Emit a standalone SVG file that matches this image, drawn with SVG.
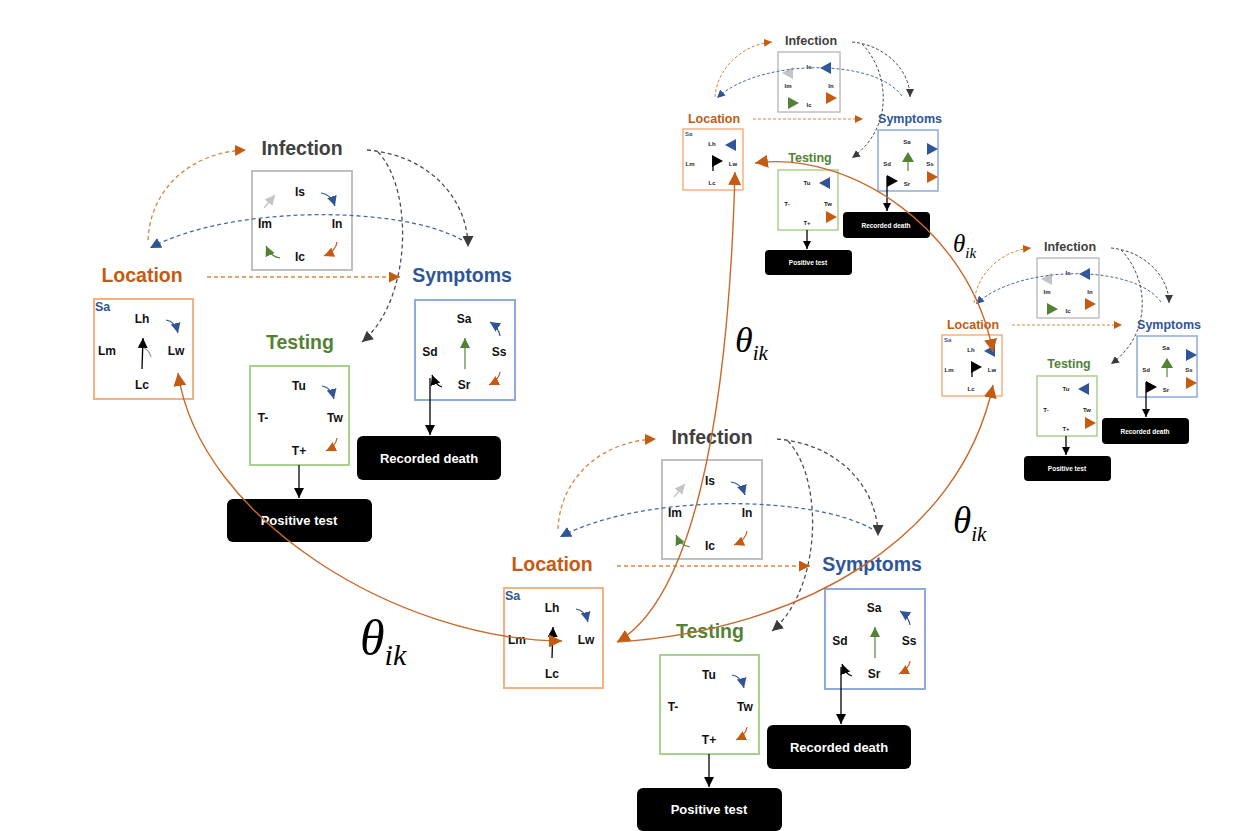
<svg xmlns="http://www.w3.org/2000/svg" width="1253" height="831" viewBox="0 0 1253 831">
<style>
text{font-family:"Liberation Sans",Arial,sans-serif;font-weight:bold;text-anchor:middle}
.ti{font-size:19.5px;fill:#404040}.tl{font-size:19.5px;fill:#c55a11}.ts{font-size:19.5px;fill:#2f5597}.tt{font-size:19.5px;fill:#548235}
.lb{font-size:12px;fill:#111}.sa{font-size:12.5px;fill:#2f5597;text-anchor:start}
.bw{font-size:13px;fill:#fff}
.sti{font-size:12.5px;fill:#404040}.stl{font-size:12.5px;fill:#c55a11}.sts{font-size:12.5px;fill:#2f5597}.stt{font-size:12.5px;fill:#548235}
.slb{font-size:6px;fill:#222}.ssa{font-size:6px;fill:#2f5597;text-anchor:start}.sbw{font-size:6.5px;fill:#fff}
.bi{fill:#fff;stroke:#bfbfbf;stroke-width:2}.bl{fill:#fff;stroke:#f4b183;stroke-width:2}.bs{fill:#fff;stroke:#8faadc;stroke-width:2}.bt{fill:#fff;stroke:#a9d18e;stroke-width:2}
.sbi{fill:#fff;stroke:#bfbfbf;stroke-width:1.5}.sbl{fill:#fff;stroke:#f4b183;stroke-width:1.5}.sbs{fill:#fff;stroke:#8faadc;stroke-width:1.5}.sbt{fill:#fff;stroke:#a9d18e;stroke-width:1.5}
.blk{fill:#000}
.ic{fill:none;stroke-width:1.2}
.d{fill:none;stroke-width:1.3;stroke-dasharray:4 3}
.dor{stroke:#d9853f}.dbl{stroke:#4a6a9f}.dgy{stroke:#4d4d4d}
.sd{fill:none;stroke-width:1;stroke-dasharray:3 2}
.ln{fill:none;stroke:#000;stroke-width:1.3}
.th{fill:none;stroke:#c8692a;stroke-width:1.4}
.theta{font-family:"Liberation Serif","Times New Roman",serif;font-style:italic;font-weight:normal;fill:#000;text-anchor:start}
</style>
<defs>
<marker id="mOr" viewBox="0 0 10 10" refX="10" refY="5" markerWidth="11" markerHeight="11" markerUnits="userSpaceOnUse" orient="auto-start-reverse"><path d="M0,0 L10,5 L0,10 z" fill="#c55a11"/></marker>
<marker id="mBl" viewBox="0 0 10 10" refX="10" refY="5" markerWidth="11" markerHeight="11" markerUnits="userSpaceOnUse" orient="auto"><path d="M0,0 L10,5 L0,10 z" fill="#2f5597"/></marker>
<marker id="mGy" viewBox="0 0 10 10" refX="10" refY="5" markerWidth="11" markerHeight="11" markerUnits="userSpaceOnUse" orient="auto"><path d="M0,0 L10,5 L0,10 z" fill="#3a3a3a"/></marker>
<marker id="mBk" viewBox="0 0 10 10" refX="10" refY="5" markerWidth="10" markerHeight="10" markerUnits="userSpaceOnUse" orient="auto"><path d="M0,0 L10,5 L0,10 z" fill="#000"/></marker>
<marker id="mGr" viewBox="0 0 10 10" refX="10" refY="5" markerWidth="10" markerHeight="10" markerUnits="userSpaceOnUse" orient="auto"><path d="M0,0 L10,5 L0,10 z" fill="#548235"/></marker>
<marker id="mLg" viewBox="0 0 10 10" refX="10" refY="5" markerWidth="10" markerHeight="10" markerUnits="userSpaceOnUse" orient="auto"><path d="M0,0 L10,5 L0,10 z" fill="#c4c4c4"/></marker>
<marker id="iBl" viewBox="0 0 10 10" refX="10" refY="5" markerWidth="10" markerHeight="10" markerUnits="userSpaceOnUse" orient="auto"><path d="M0,0 L10,5 L0,10 z" fill="#2f5597"/></marker>
<marker id="iOr" viewBox="0 0 10 10" refX="10" refY="5" markerWidth="10" markerHeight="10" markerUnits="userSpaceOnUse" orient="auto"><path d="M0,0 L10,5 L0,10 z" fill="#c55a11"/></marker>
<marker id="tOr" viewBox="0 0 10 10" refX="10" refY="5" markerWidth="13" markerHeight="13" markerUnits="userSpaceOnUse" orient="auto-start-reverse"><path d="M0,0 L10,5 L0,10 z" fill="#c55a11"/></marker>
<marker id="sOr" viewBox="0 0 10 10" refX="10" refY="5" markerWidth="8" markerHeight="8" markerUnits="userSpaceOnUse" orient="auto"><path d="M0,0 L10,5 L0,10 z" fill="#c55a11"/></marker>
<marker id="sBl" viewBox="0 0 10 10" refX="10" refY="5" markerWidth="8" markerHeight="8" markerUnits="userSpaceOnUse" orient="auto"><path d="M0,0 L10,5 L0,10 z" fill="#2f5597"/></marker>
<marker id="sGy" viewBox="0 0 10 10" refX="10" refY="5" markerWidth="8" markerHeight="8" markerUnits="userSpaceOnUse" orient="auto"><path d="M0,0 L10,5 L0,10 z" fill="#3a3a3a"/></marker>
<marker id="sBk" viewBox="0 0 10 10" refX="10" refY="5" markerWidth="8" markerHeight="8" markerUnits="userSpaceOnUse" orient="auto"><path d="M0,0 L10,5 L0,10 z" fill="#000"/></marker>
</defs>
<rect width="1253" height="831" fill="#fff"/>

<!-- Cluster 1 (left, large) -->
<g id="cluster1">
 <g id="c1-infection">
  <text class="ti" x="302" y="155">Infection</text>
  <rect class="bi" x="252" y="171" width="100" height="99"/>
  <text class="lb" x="300" y="196">Is</text>
  <text class="lb" x="265" y="228">Im</text>
  <text class="lb" x="337" y="228">In</text>
  <text class="lb" x="300" y="261">Ic</text>
  <path class="ic" stroke="#c4c4c4" marker-end="url(#mLg)" d="M264,208 L275,195"/>
  <path class="ic" stroke="#2f5597" marker-end="url(#iBl)" d="M321,193 Q331,194 335,206"/>
  <path class="ic" stroke="#548235" marker-end="url(#mGr)" d="M280,258 Q271,257 266,246"/>
  <path class="ic" stroke="#c55a11" marker-end="url(#iOr)" d="M337,242 Q336,251 324,256"/>
 </g>
 <g id="c1-location">
  <text class="tl" x="142" y="282">Location</text>
  <rect class="bl" x="94" y="299" width="99" height="100"/>
  <text class="sa" x="95" y="311">Sa</text>
  <text class="lb" x="142" y="323">Lh</text>
  <text class="lb" x="107" y="355">Lm</text>
  <text class="lb" x="176" y="355">Lw</text>
  <text class="lb" x="142" y="389">Lc</text>
  <path class="ln" marker-end="url(#mBk)" d="M142,369 L143,338"/>
  <path class="ic" stroke="#999" d="M151,357 Q149,350 144,348"/>
  <path class="ic" stroke="#2f5597" marker-end="url(#iBl)" d="M166,320 Q175,321 178,333"/>
 </g>
 <g id="c1-symptoms">
  <text class="ts" x="462" y="282">Symptoms</text>
  <rect class="bs" x="415" y="300" width="100" height="100"/>
  <text class="lb" x="464" y="323">Sa</text>
  <text class="lb" x="430" y="356">Sd</text>
  <text class="lb" x="499" y="356">Ss</text>
  <text class="lb" x="464" y="389">Sr</text>
  <path class="ic" stroke="#548235" marker-end="url(#mGr)" d="M465,369 L465,338"/>
  <path class="ic" stroke="#2f5597" marker-end="url(#iBl)" d="M500,336 Q499,328 490,322"/>
  <path class="ic" stroke="#c55a11" marker-end="url(#iOr)" d="M500,372 Q499,380 489,385"/>
  <path class="ic" stroke="#000" marker-end="url(#mBk)" d="M442,387 Q436,386 432,375"/>
 </g>
 <g id="c1-testing">
  <text class="tt" x="300" y="349">Testing</text>
  <rect class="bt" x="250" y="366" width="99" height="99"/>
  <text class="lb" x="299" y="390">Tu</text>
  <text class="lb" x="263" y="422">T-</text>
  <text class="lb" x="335" y="422">Tw</text>
  <text class="lb" x="299" y="455">T+</text>
  <path class="ic" stroke="#2f5597" marker-end="url(#iBl)" d="M322,386 Q331,387 334,399"/>
  <path class="ic" stroke="#c55a11" marker-end="url(#iOr)" d="M337,438 Q336,446 326,451"/>
 </g>
 <g id="c1-positive">
  <rect class="blk" x="227" y="499" width="145" height="43" rx="6"/>
  <text class="bw" x="299" y="525">Positive test</text>
 </g>
 <g id="c1-death">
  <rect class="blk" x="357" y="436" width="144" height="44" rx="6"/>
  <text class="bw" x="429" y="463">Recorded death</text>
 </g>
 <g id="c1-connectors">
  <path class="ln" marker-end="url(#mBk)" d="M299,465 L299,498"/>
  <path class="ln" marker-end="url(#mBk)" d="M430,378 L430,435"/>
  <path class="d dor" marker-end="url(#mOr)" d="M148,240 C150,190 190,152 246,150"/>
  <path class="d dbl" marker-end="url(#mBl)" d="M462,240 C400,205 230,205 150,248"/>
  <path class="d dgy" marker-end="url(#mGy)" d="M367,150 C430,155 468,200 468,247"/>
  <path class="d dgy" marker-end="url(#mGy)" d="M378,152 C414,190 412,300 362,342"/>
  <path class="d dor" marker-end="url(#mOr)" d="M207,277 L400,277"/>
 </g>
</g>

<!-- Cluster 2 (bottom, large) -->
<g id="cluster2" transform="translate(410,289)">
 <g id="c2-infection">
  <text class="ti" x="302" y="155">Infection</text>
  <rect class="bi" x="252" y="171" width="100" height="99"/>
  <text class="lb" x="300" y="196">Is</text>
  <text class="lb" x="265" y="228">Im</text>
  <text class="lb" x="337" y="228">In</text>
  <text class="lb" x="300" y="261">Ic</text>
  <path class="ic" stroke="#c4c4c4" marker-end="url(#mLg)" d="M264,208 L275,195"/>
  <path class="ic" stroke="#2f5597" marker-end="url(#iBl)" d="M321,193 Q331,194 335,206"/>
  <path class="ic" stroke="#548235" marker-end="url(#mGr)" d="M280,258 Q271,257 266,246"/>
  <path class="ic" stroke="#c55a11" marker-end="url(#iOr)" d="M337,242 Q336,251 324,256"/>
 </g>
 <g id="c2-location">
  <text class="tl" x="142" y="282">Location</text>
  <rect class="bl" x="94" y="299" width="99" height="100"/>
  <text class="sa" x="95" y="311">Sa</text>
  <text class="lb" x="142" y="323">Lh</text>
  <text class="lb" x="107" y="355">Lm</text>
  <text class="lb" x="176" y="355">Lw</text>
  <text class="lb" x="142" y="389">Lc</text>
  <path class="ln" marker-end="url(#mBk)" d="M142,369 L143,338"/>
  <path class="ic" stroke="#2f5597" marker-end="url(#iBl)" d="M166,320 Q175,321 178,333"/>
 </g>
 <g id="c2-symptoms">
  <text class="ts" x="462" y="282">Symptoms</text>
  <rect class="bs" x="415" y="300" width="100" height="100"/>
  <text class="lb" x="464" y="323">Sa</text>
  <text class="lb" x="430" y="356">Sd</text>
  <text class="lb" x="499" y="356">Ss</text>
  <text class="lb" x="464" y="389">Sr</text>
  <path class="ic" stroke="#548235" marker-end="url(#mGr)" d="M465,369 L465,338"/>
  <path class="ic" stroke="#2f5597" marker-end="url(#iBl)" d="M500,336 Q499,328 490,322"/>
  <path class="ic" stroke="#c55a11" marker-end="url(#iOr)" d="M500,372 Q499,380 489,385"/>
  <path class="ic" stroke="#000" marker-end="url(#mBk)" d="M442,387 Q436,386 432,375"/>
 </g>
 <g id="c2-testing">
  <text class="tt" x="300" y="349">Testing</text>
  <rect class="bt" x="250" y="366" width="99" height="99"/>
  <text class="lb" x="299" y="390">Tu</text>
  <text class="lb" x="263" y="422">T-</text>
  <text class="lb" x="335" y="422">Tw</text>
  <text class="lb" x="299" y="455">T+</text>
  <path class="ic" stroke="#2f5597" marker-end="url(#iBl)" d="M322,386 Q331,387 334,399"/>
  <path class="ic" stroke="#c55a11" marker-end="url(#iOr)" d="M337,438 Q336,446 326,451"/>
 </g>
 <g id="c2-positive">
  <rect class="blk" x="227" y="499" width="145" height="43" rx="6"/>
  <text class="bw" x="299" y="525">Positive test</text>
 </g>
 <g id="c2-death">
  <rect class="blk" x="357" y="436" width="144" height="44" rx="6"/>
  <text class="bw" x="429" y="463">Recorded death</text>
 </g>
 <g id="c2-connectors">
  <path class="ln" marker-end="url(#mBk)" d="M299,465 L299,498"/>
  <path class="ln" marker-end="url(#mBk)" d="M431,378 L431,435"/>
  <path class="d dor" marker-end="url(#mOr)" d="M148,240 C150,190 190,152 246,150"/>
  <path class="d dbl" marker-end="url(#mBl)" d="M462,240 C400,205 230,205 150,248"/>
  <path class="d dgy" marker-end="url(#mGy)" d="M367,150 C430,155 468,200 468,247"/>
  <path class="d dgy" marker-end="url(#mGy)" d="M378,152 C414,190 412,300 362,342"/>
  <path class="d dor" marker-end="url(#mOr)" d="M207,277 L400,277"/>
 </g>
</g>

<!-- Cluster 3 (top right, small) -->
<g id="cluster3">
 <g id="c3-infection">
  <text class="sti" x="811" y="45">Infection</text>
  <rect class="sbi" x="778" y="52" width="62" height="60"/>
  <text class="slb" x="809" y="69">Is</text>
  <text class="slb" x="788" y="88">Im</text>
  <text class="slb" x="831" y="88">In</text>
  <text class="slb" x="809" y="107">Ic</text>
  <polygon points="782,73 793,67 793,79" fill="#c4c4c4"/>
  <polygon points="820,68 831,62 831,74" fill="#2f5597"/>
  <polygon points="788,97 799,103 788,109" fill="#548235"/>
  <polygon points="826,92 837,98 826,104" fill="#c55a11"/>
 </g>
 <g id="c3-location">
  <text class="stl" x="714" y="123">Location</text>
  <rect class="sbl" x="683" y="129" width="60" height="61"/>
  <text class="ssa" x="685" y="136">Sa</text>
  <text class="slb" x="712" y="146">Lh</text>
  <text class="slb" x="690" y="166">Lm</text>
  <text class="slb" x="733" y="166">Lw</text>
  <text class="slb" x="712" y="185">Lc</text>
  <polygon points="725,145 736,139 736,151" fill="#2f5597"/>
  <polygon points="712,155 723,161 712,167" fill="#000"/>
  <path class="ln" stroke-width="1" d="M713,160 L713,171"/>
 </g>
 <g id="c3-symptoms">
  <text class="sts" x="910" y="123">Symptoms</text>
  <rect class="sbs" x="878" y="130" width="60" height="61"/>
  <text class="slb" x="907" y="144">Sa</text>
  <text class="slb" x="887" y="166">Sd</text>
  <text class="slb" x="930" y="166">Ss</text>
  <text class="slb" x="907" y="186">Sr</text>
  <polygon points="927,143 938,149 927,155" fill="#2f5597"/>
  <polygon points="927,171 938,177 927,183" fill="#c55a11"/>
  <polygon points="902,162 908,152 914,162" fill="#548235"/>
  <path fill="none" stroke="#548235" stroke-width="1.2" d="M908,161 L908,171"/>
  <polygon points="887,175 898,181 887,187" fill="#000"/>
 </g>
 <g id="c3-testing">
  <text class="stt" x="810" y="162">Testing</text>
  <rect class="sbt" x="778" y="170" width="60" height="60"/>
  <text class="slb" x="807" y="185">Tu</text>
  <text class="slb" x="787" y="206">T-</text>
  <text class="slb" x="828" y="206">Tw</text>
  <text class="slb" x="807" y="225">T+</text>
  <polygon points="819,183 830,177 830,189" fill="#2f5597"/>
  <polygon points="826,211 837,217 826,223" fill="#c55a11"/>
 </g>
 <g id="c3-positive">
  <rect class="blk" x="765" y="250" width="87" height="25" rx="4"/>
  <text class="sbw" x="808" y="265">Positive test</text>
 </g>
 <g id="c3-death">
  <rect class="blk" x="843" y="212" width="87" height="26" rx="4"/>
  <text class="sbw" x="886" y="228">Recorded death</text>
 </g>
 <g id="c3-connectors">
  <path class="ln" stroke-width="1.1" marker-end="url(#sBk)" d="M807,230 L807,249"/>
  <path class="ln" stroke-width="1.1" marker-end="url(#sBk)" d="M887,176 L887,211"/>
  <path class="sd dor" marker-end="url(#sOr)" d="M715,97 C717,70 740,45 772,42"/>
  <path class="sd dbl" marker-end="url(#sBl)" d="M902,96 C875,58 760,58 717,98"/>
  <path class="sd dgy" marker-end="url(#sGy)" d="M852,42 C885,45 910,70 910,97"/>
  <path class="sd dgy" marker-end="url(#sGy)" d="M862,44 C888,70 896,126 852,158"/>
  <path class="sd dor" marker-end="url(#sOr)" d="M753,119 L863,119"/>
 </g>
</g>

<!-- Cluster 4 (right, small) -->
<g id="cluster4" transform="translate(259,206)">
 <g id="c4-infection">
  <text class="sti" x="811" y="45">Infection</text>
  <rect class="sbi" x="778" y="52" width="62" height="60"/>
  <text class="slb" x="809" y="69">Is</text>
  <text class="slb" x="788" y="88">Im</text>
  <text class="slb" x="831" y="88">In</text>
  <text class="slb" x="809" y="107">Ic</text>
  <polygon points="782,73 793,67 793,79" fill="#c4c4c4"/>
  <polygon points="820,68 831,62 831,74" fill="#2f5597"/>
  <polygon points="788,97 799,103 788,109" fill="#548235"/>
  <polygon points="826,92 837,98 826,104" fill="#c55a11"/>
 </g>
 <g id="c4-location">
  <text class="stl" x="714" y="123">Location</text>
  <rect class="sbl" x="683" y="129" width="60" height="61"/>
  <text class="ssa" x="685" y="136">Sa</text>
  <text class="slb" x="712" y="146">Lh</text>
  <text class="slb" x="690" y="166">Lm</text>
  <text class="slb" x="733" y="166">Lw</text>
  <text class="slb" x="712" y="185">Lc</text>
  <polygon points="725,145 736,139 736,151" fill="#2f5597"/>
  <polygon points="712,155 723,161 712,167" fill="#000"/>
  <path class="ln" stroke-width="1" d="M713,160 L713,171"/>
 </g>
 <g id="c4-symptoms">
  <text class="sts" x="910" y="123">Symptoms</text>
  <rect class="sbs" x="878" y="130" width="60" height="61"/>
  <text class="slb" x="907" y="144">Sa</text>
  <text class="slb" x="887" y="166">Sd</text>
  <text class="slb" x="930" y="166">Ss</text>
  <text class="slb" x="907" y="186">Sr</text>
  <polygon points="927,143 938,149 927,155" fill="#2f5597"/>
  <polygon points="927,171 938,177 927,183" fill="#c55a11"/>
  <polygon points="902,162 908,152 914,162" fill="#548235"/>
  <path fill="none" stroke="#548235" stroke-width="1.2" d="M908,161 L908,171"/>
  <polygon points="887,175 898,181 887,187" fill="#000"/>
 </g>
 <g id="c4-testing">
  <text class="stt" x="810" y="162">Testing</text>
  <rect class="sbt" x="778" y="170" width="60" height="60"/>
  <text class="slb" x="807" y="185">Tu</text>
  <text class="slb" x="787" y="206">T-</text>
  <text class="slb" x="828" y="206">Tw</text>
  <text class="slb" x="807" y="225">T+</text>
  <polygon points="819,183 830,177 830,189" fill="#2f5597"/>
  <polygon points="826,211 837,217 826,223" fill="#c55a11"/>
 </g>
 <g id="c4-positive">
  <rect class="blk" x="765" y="250" width="87" height="25" rx="4"/>
  <text class="sbw" x="808" y="265">Positive test</text>
 </g>
 <g id="c4-death">
  <rect class="blk" x="843" y="212" width="87" height="26" rx="4"/>
  <text class="sbw" x="886" y="228">Recorded death</text>
 </g>
 <g id="c4-connectors">
  <path class="ln" stroke-width="1.1" marker-end="url(#sBk)" d="M807,230 L807,249"/>
  <path class="ln" stroke-width="1.1" marker-end="url(#sBk)" d="M887,176 L887,211"/>
  <path class="sd dor" marker-end="url(#sOr)" d="M715,97 C717,70 740,45 772,42"/>
  <path class="sd dbl" marker-end="url(#sBl)" d="M902,96 C875,58 760,58 717,98"/>
  <path class="sd dgy" marker-end="url(#sGy)" d="M852,42 C885,45 910,70 910,97"/>
  <path class="sd dgy" marker-end="url(#sGy)" d="M862,44 C888,70 896,126 852,158"/>
  <path class="sd dor" marker-end="url(#sOr)" d="M753,119 L863,119"/>
 </g>
</g>

<!-- Theta links between clusters -->
<g id="theta-connectors">
 <path class="th" marker-start="url(#tOr)" marker-end="url(#tOr)" d="M178,373 C200,520 400,640 562,641"/>
 <path class="th" marker-start="url(#tOr)" marker-end="url(#tOr)" d="M617,642 C690,600 728,430 735,172"/>
 <path class="th" marker-end="url(#tOr)" d="M617,642 C800,630 960,540 993,385"/>
 <path class="th" marker-start="url(#tOr)" marker-end="url(#tOr)" d="M755,163 C850,150 970,230 993,352"/>
</g>
<g id="theta-labels">
 <text class="theta" x="360" y="655" font-size="50">θ<tspan font-size="30" dy="10">ik</tspan></text>
 <text class="theta" x="735" y="352" font-size="36">θ<tspan font-size="21" dy="8">ik</tspan></text>
 <text class="theta" x="953" y="252" font-size="25">θ<tspan font-size="15" dy="6">ik</tspan></text>
 <text class="theta" x="953" y="533" font-size="37">θ<tspan font-size="21" dy="8">ik</tspan></text>
</g>
</svg>
